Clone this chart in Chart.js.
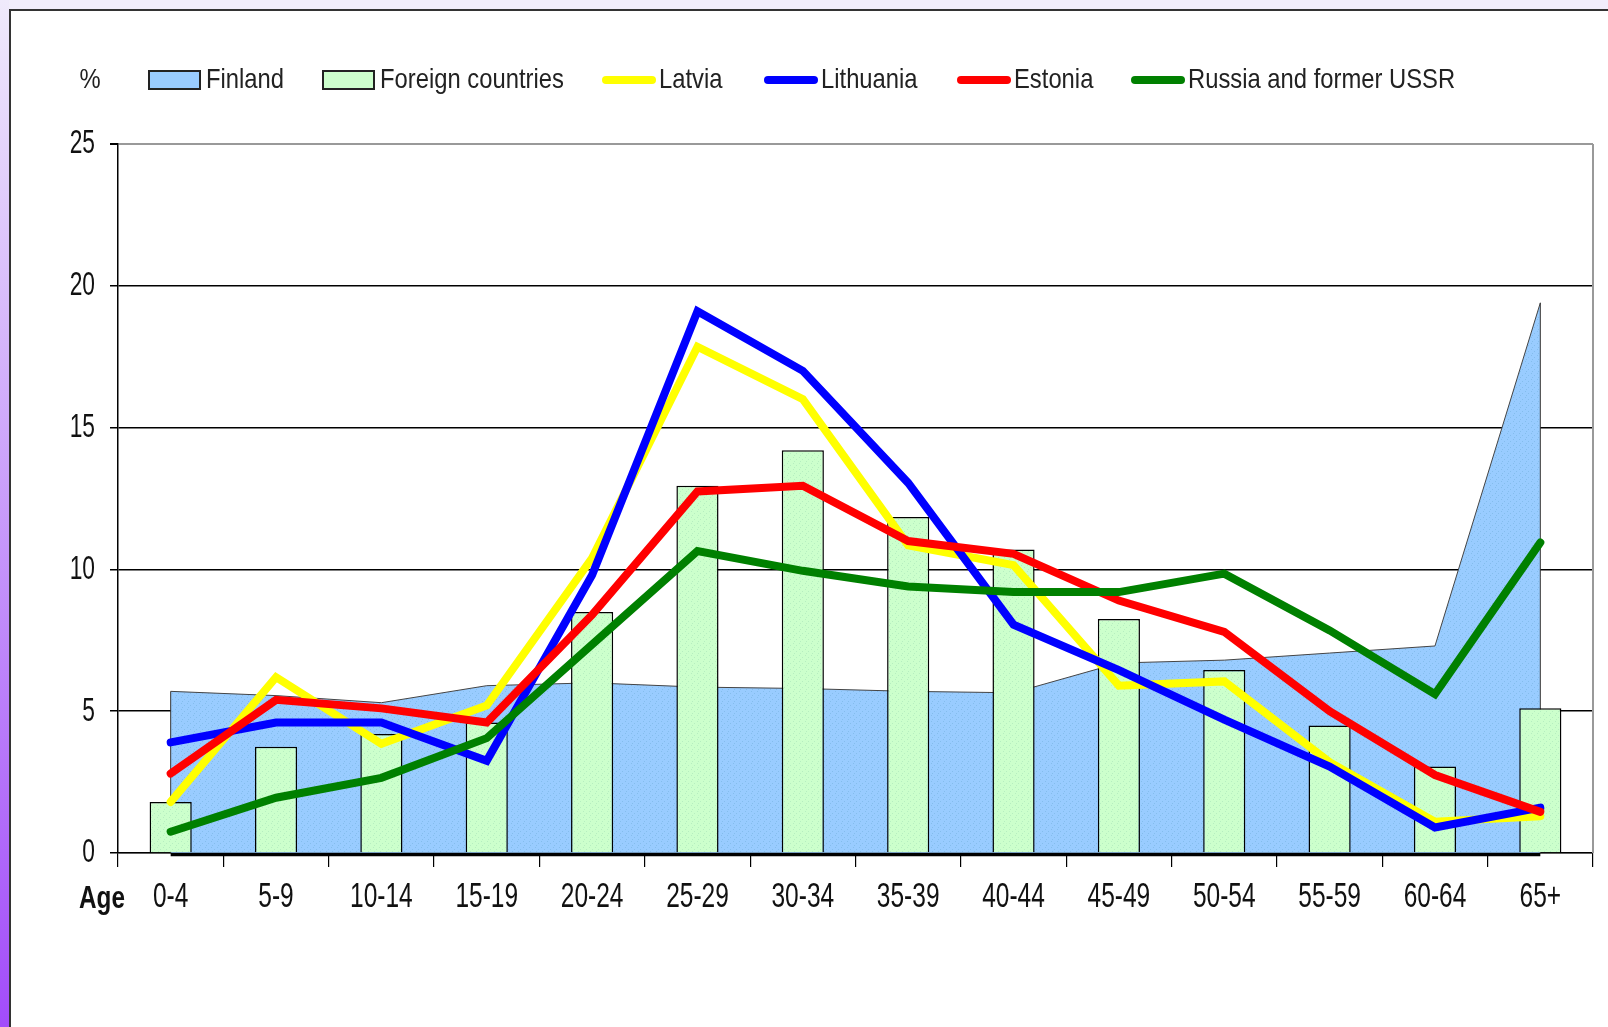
<!DOCTYPE html>
<html>
<head>
  <meta charset="utf-8">
  <title>Population by age group</title>
  <style>
    body { margin:0; width:1608px; height:1027px; background:#f1edfb; position:relative; overflow:hidden; }
    #strip { position:absolute; left:0; top:0; width:9px; height:1027px; background:linear-gradient(#efeafb, #a24cfa); }
    #frame { position:absolute; left:9px; top:9px; right:0; bottom:0; background:#fff; border-top:2px solid #333; border-left:2px solid #333; }
    #chart { position:absolute; left:0; top:0; }
  </style>
</head>
<body>
  <script src="https://cdn.jsdelivr.net/npm/chart.js"></script>
  <div id="strip"></div>
  <div id="frame"></div>
  <canvas id="chart" width="1608" height="1027"></canvas>
<script>
    // age groups and shares (%)
    const ageGroups = ['0-4', '5-9', '10-14', '15-19', '20-24', '25-29', '30-34', '35-39', '40-44', '45-49', '50-54', '55-59', '60-64', '65+'];
    const yTicks = [0, 5, 10, 15, 20, 25];

    const finland   = [5.7, 5.55, 5.3, 5.9, 6.0, 5.85, 5.8, 5.7, 5.65, 6.7, 6.8, 7.05, 7.3, 19.4];
    const foreign   = [1.8, 3.75, 4.2, 4.6, 8.5, 12.95, 14.2, 11.85, 10.7, 8.25, 6.45, 4.5, 3.05, 5.1];
    const latvia    = [1.8, 6.2, 3.85, 5.2, 10.4, 17.85, 16.0, 10.85, 10.15, 5.9, 6.05, 3.2, 1.1, 1.3];
    const lithuania = [3.9, 4.6, 4.6, 3.25, 9.8, 19.1, 17.0, 13.05, 8.05, 6.45, 4.7, 3.05, 0.9, 1.6];
    const estonia   = [2.8, 5.4, 5.1, 4.6, 8.4, 12.75, 12.95, 11.0, 10.55, 8.9, 7.8, 5.0, 2.75, 1.45];
    const russia    = [0.75, 1.95, 2.65, 4.05, 7.35, 10.65, 9.95, 9.4, 9.2, 9.2, 9.85, 7.85, 5.6, 10.95];

    const FONT = "'Liberation Sans', Arial, sans-serif";

    // small dotted fill like the old office chart textures
    function dotted(base, dot) {
      const c = document.createElement('canvas');
      c.width = 6; c.height = 6;
      const g = c.getContext('2d');
      g.fillStyle = base; g.fillRect(0, 0, 6, 6);
      g.fillStyle = dot;
      g.fillRect(1, 1, 1, 1); g.fillRect(4, 3, 1, 1); g.fillRect(2, 5, 1, 1);
      return g.createPattern(c, 'repeat');
    }
    const finFill = dotted('#99ccff', '#84bdec');
    const forFill = dotted('#ccffcc', '#b6eec0');

    function lineSet(label, data, color, order) {
      return {
        type: 'line', label: label, data: data,
        borderColor: color, backgroundColor: color, borderWidth: 8,
        borderJoinStyle: 'miter', borderCapStyle: 'round',
        pointRadius: 0, tension: 0, fill: false, order: order
      };
    }

    // the original text is a squeezed Arial, so draw it narrowed
    function narrowText(c, text, x, y, size, sx, align, bold) {
      c.save();
      c.font = (bold ? 'bold ' : '') + size + 'px ' + FONT;
      c.textBaseline = 'middle';
      c.textAlign = align;
      c.translate(x, y);
      c.scale(sx, 1);
      c.fillText(text, 0, 0);
      c.restore();
    }

    // extra drawing: area outline, plot border, labels and legend
    const extras = {
      id: 'extras',
      afterDatasetDraw(chart, args) {
        if (args.index !== 0) return;
        const c = chart.ctx, x = chart.scales.x, y = chart.scales.y;
        const x0 = x.getPixelForValue(0), x1 = x.getPixelForValue(ageGroups.length - 1);
        const yb = y.getPixelForValue(0);
        c.save();
        c.strokeStyle = '#333'; c.lineWidth = 1;
        c.beginPath();
        c.moveTo(x0, y.getPixelForValue(finland[0])); c.lineTo(x0, yb);
        c.moveTo(x1, y.getPixelForValue(finland[finland.length - 1])); c.lineTo(x1, yb);
        c.stroke();
        c.strokeStyle = '#000'; c.lineWidth = 3.5;
        c.beginPath(); c.moveTo(x0, yb + 1.5); c.lineTo(x1, yb + 1.5); c.stroke();
        c.restore();
      },
      afterDraw(chart) {
        const c = chart.ctx, a = chart.chartArea;
        const xs = chart.scales.x, ys = chart.scales.y;
        c.save();
        c.strokeStyle = '#999'; c.lineWidth = 2;
        c.beginPath(); c.moveTo(a.right, a.top); c.lineTo(a.right, a.bottom); c.stroke();

        c.fillStyle = '#111';
        ageGroups.forEach((g, i) => narrowText(c, g, xs.getPixelForTick(i), 897, 35, 0.7, 'center'));
        yTicks.forEach(v => narrowText(c, String(v), 95, ys.getPixelForValue(v), 34, 0.67, 'right'));
        narrowText(c, 'Age', 79, 899, 32, 0.76, 'left', true);

        c.fillStyle = '#222';
        narrowText(c, '%', 90, 80, 28, 0.85, 'center');
        const ds = chart.data.datasets;
        const legendX = [149, 323, 602, 764, 957, 1131];
        ds.forEach((d, i) => {
          const lx = legendX[i];
          if (i < 2) {
            c.fillStyle = i === 0 ? '#99ccff' : '#ccffcc';
            c.fillRect(lx, 71, 51, 18);
            c.strokeStyle = '#222'; c.lineWidth = 2;
            c.strokeRect(lx, 71, 51, 18);
          } else {
            c.strokeStyle = d.borderColor; c.lineWidth = 8; c.lineCap = 'round';
            c.beginPath(); c.moveTo(lx + 4, 80); c.lineTo(lx + 50, 80); c.stroke();
          }
          c.fillStyle = '#222';
          narrowText(c, d.label, lx + 57, 80, 28, 0.85, 'left');
        });
        c.restore();
      }
    };

    new Chart(document.getElementById('chart'), {
      type: 'bar',
      data: {
        labels: ageGroups,
        datasets: [
          { type: 'line', label: 'Finland', data: finland, fill: 'origin', backgroundColor: finFill,
            borderColor: '#444', borderWidth: 1, pointRadius: 0, tension: 0, order: 6 },
          { type: 'bar', label: 'Foreign countries', data: foreign, backgroundColor: forFill,
            borderColor: '#000', borderWidth: 1.5, barPercentage: 0.4, categoryPercentage: 1, order: 5 },
          lineSet('Latvia', latvia, '#ffff00', 4),
          lineSet('Lithuania', lithuania, '#0000ff', 3),
          lineSet('Estonia', estonia, '#ff0000', 2),
          lineSet('Russia and former USSR', russia, '#008000', 1)
        ]
      },
      options: {
        responsive: false,
        animation: false,
        devicePixelRatio: 1,
        layout: { padding: { left: 0, right: 15, top: 144, bottom: 0 } },
        plugins: { legend: { display: false }, tooltip: { enabled: false } },
        scales: {
          x: {
            grid: { offset: true, drawOnChartArea: false, tickLength: 14, color: '#000', lineWidth: 1.2 },
            border: { color: '#000', width: 1.2 },
            ticks: { display: false },
            afterFit(s) { s.height = 174; }
          },
          y: {
            min: 0, max: 25,
            afterBuildTicks(s) { s.ticks = yTicks.map(v => ({ value: v })); },
            ticks: { display: false },
            grid: {
              color: c => (c.tick && c.tick.value === 25) ? '#999' : '#000',
              lineWidth: c => (c.tick && c.tick.value === 25) ? 2 : 1.5,
              tickLength: 8, tickColor: '#000'
            },
            border: { color: '#000', width: 1.5 },
            afterFit(s) { s.width = 118; }
          }
        }
      },
      plugins: [extras]
    });
</script>
</body>
</html>
